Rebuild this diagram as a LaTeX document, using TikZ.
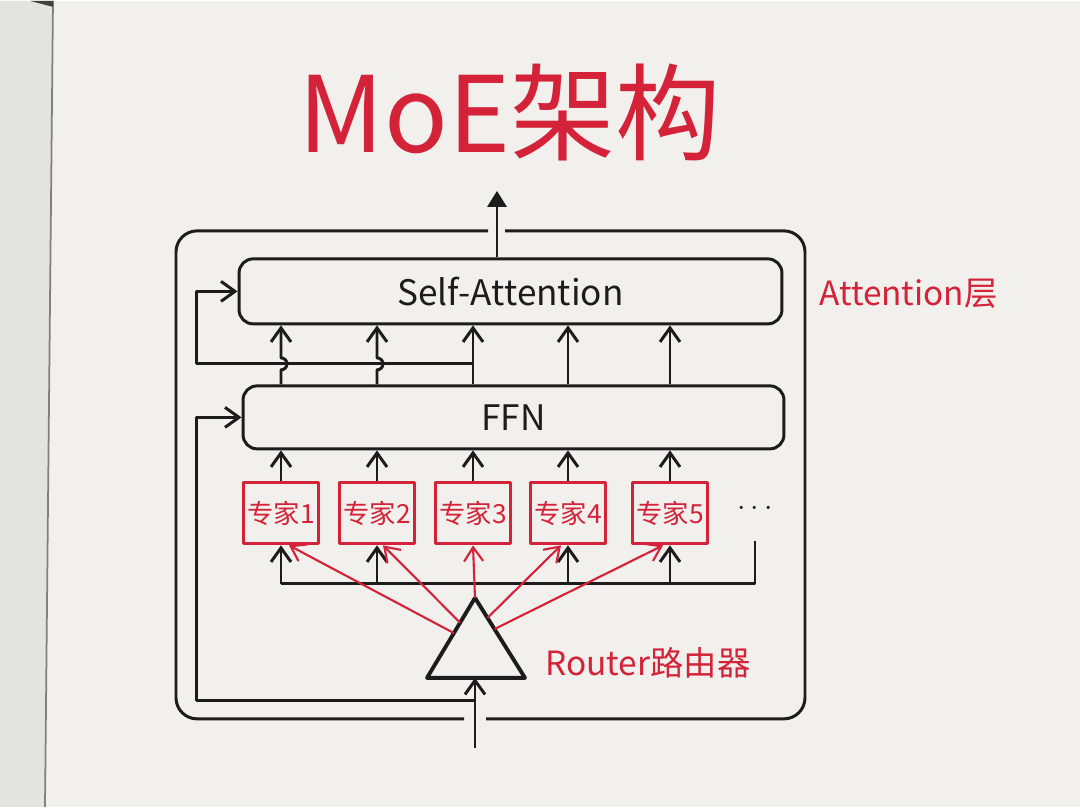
\documentclass[tikz,border=0pt]{standalone}
\usepackage{fontspec}
\setmainfont{Noto Sans CJK SC}
\usetikzlibrary{arrows.meta,calc}
\definecolor{paper}{RGB}{241,240,237}
\definecolor{margin}{RGB}{227,227,224}
\definecolor{inkred}{RGB}{212,34,56}
\definecolor{ink}{RGB}{28,28,28}

\begin{document}
\begin{tikzpicture}[x=0.02cm, y=-0.02cm, line width=1.7pt, line join=round,
    flow/.style={draw=ink, -{Straight Barb[length=2.8mm,width=4mm]}},
    route/.style={draw=inkred, line width=1.2pt, -{Straight Barb[length=2.8mm,width=3.8mm]}},
    layer/.style={draw=ink, text=ink, rounded corners=8pt, font=\fontsize{20}{20}\selectfont},
    expert/.style={draw=inkred, text=inkred, minimum width=1.5cm, minimum height=1.22cm, inner sep=0pt, font=\fontsize{15}{15}\selectfont},
    note/.style={text=inkred, anchor=west, font=\fontsize{19}{19}\selectfont}]
   % paper
   \fill[paper] (0,0) rectangle (1080,806);
   \fill[margin] (0,0) -- (53,0) -- (45,806) -- (0,806) -- cycle;
   \draw[gray, line width=1pt] (53,0) -- (45,806);
   \fill[gray!50!black] (30,0) -- (53,0) -- (53,6) -- cycle;

   \node[text=inkred, font=\fontsize{60}{60}\selectfont] (title) at (510,112) {MoE架构};
   % block, open where the input and output pass
   \draw[ink, rounded corners=12pt] (488,230) -| (176,718) -- (464,718);
   \draw[ink, rounded corners=12pt] (486,718) -| (805,230) -- (505,230);
   \node[layer, minimum width=10.86cm, minimum height=1.3cm] (sa) at (510.5,290.5) {Self-Attention};
   \node[layer, minimum width=10.82cm, minimum height=1.26cm] (ffn) at (513.5,416.5) {FFN};
   \node[note] (alabel) at (812,293) {Attention层};
   \foreach \i/\x in {1/281,2/377,3/473,4/568,5/670}
     \node[expert] (e\i) at (\x,512.5) {专家\i};
   \node[text=ink, font=\fontsize{18}{18}\selectfont] (more) at (755,508) {$\cdots$};

   % router
   \coordinate (apex) at (475,597);
   \coordinate (bl) at (427,677);
   \coordinate (br) at (525,677);
   \coordinate (base) at (475,677);
   \draw[ink, line width=2.2pt] (apex) -- (bl) -- (br) -- cycle;
   \node[note] (rlabel) at (538,662) {Router路由器};

   \coordinate (in) at (475,747);
   \coordinate (split) at (475,700);
   \coordinate (tap) at (473,363);
   \coordinate (feed) at (281,583);
   \coordinate (out) at (497,190);

   \draw[flow] (in) -- (base);
   \draw[flow] (split) -| ($(ffn.west)+(-45,0)$) -- (ffn.west);
   \draw[flow] (tap) -| ($(sa.west)+(-41,0)$) -- (sa.west);
   \draw[ink, -{Triangle[length=3.2mm,width=3.8mm]}] (out |- sa.north) -- (out);

   \draw[ink] (e1 |- feed) -- (more |- feed) -- ++(0,-43);
   \foreach \i in {1,2,4,5}
     \draw[flow] (e\i |- feed) -- (e\i.south);
   \foreach \i in {1,...,5}
     \draw[flow] (e\i.north) -- (e\i |- ffn.south);
   \foreach \i in {1,2}
     \draw[flow] (e\i |- ffn.north) -- ($(e\i |- tap)+(0,6)$) arc[start angle=-90, end angle=90, radius=0.12cm] -- (e\i |- sa.south);
   \foreach \i in {3,4,5}
     \draw[flow] (e\i |- ffn.north) -- (e\i |- sa.south);

   \draw[route] ($(apex)!0.44!(bl)$) -- ($(e1.south)+(8,0)$);
   \draw[route] ($(apex)!0.31!(bl)$) -- ($(e2.south)+(6,0)$);
   \draw[route] (apex) -- (e3.south);
   \draw[route] ($(apex)!0.25!(br)$) -- ($(e4.south)+(-7,0)$);
   \draw[route] ($(apex)!0.39!(br)$) -- ($(e5.south)+(-7,0)$);
\end{tikzpicture}
\end{document}
